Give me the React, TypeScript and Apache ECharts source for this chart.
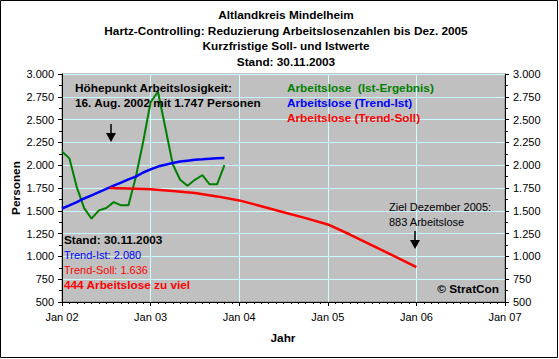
import React, { useEffect, useRef } from "react";
import * as echarts from "echarts";

const titleLines = [
  "Altlandkreis Mindelheim",
  "Hartz-Controlling: Reduzierung Arbeitslosenzahlen bis Dez. 2005",
  "Kurzfristige Soll- und Istwerte",
  "Stand: 30.11.2003",
];

const istMonths = [
  "2002-01-01", "2002-02-01", "2002-03-01", "2002-04-01", "2002-05-01", "2002-06-01",
  "2002-07-01", "2002-08-01", "2002-09-01", "2002-10-01", "2002-11-01", "2002-12-01",
  "2003-01-01", "2003-02-01", "2003-03-01", "2003-04-01", "2003-05-01", "2003-06-01",
  "2003-07-01", "2003-08-01", "2003-09-01", "2003-10-01", "2003-11-01",
];
const istValues = [
  2150, 2075, 1760, 1530, 1415, 1505, 1530, 1595, 1560, 1560, 1870, 2260,
  2690, 2805, 2410, 2010, 1840, 1775, 1840, 1890, 1790, 1790, 2000,
];
const trendIstValues = [
  1525, 1560, 1595, 1635, 1670, 1705, 1740, 1775, 1810, 1845, 1875, 1920,
  1955, 1985, 2005, 2025, 2040, 2050, 2060, 2065, 2072, 2077, 2080,
];
const sollDates = [
  "2002-07-15", "2002-10-01", "2003-01-01", "2003-04-01", "2003-07-01", "2003-10-01",
  "2004-01-01", "2004-04-01", "2004-07-01", "2004-10-01", "2005-01-01", "2005-04-01",
  "2005-07-01", "2005-10-01", "2006-01-01",
];
const sollValues = [
  1750, 1745, 1735, 1718, 1695, 1658, 1614, 1550, 1485, 1420, 1350, 1240, 1120, 1003, 883,
];

const legendItems = [
  { text: "Arbeitslose  (Ist-Ergebnis)", color: "#008000" },
  { text: "Arbeitslose (Trend-Ist)", color: "#0000FF" },
  { text: "Arbeitslose (Trend-Soll)", color: "#FF0000" },
];

const statusLines = [
  { text: "Stand: 30.11.2003", color: "#000000", bold: true },
  { text: "Trend-Ist: 2.080", color: "#0000FF", bold: false },
  { text: "Trend-Soll: 1.636", color: "#FF0000", bold: false },
  { text: "444 Arbeitslose zu viel", color: "#FF0000", bold: true },
];

const FONT = "'Liberation Sans', Arial, sans-serif";

// months since Jan 2002
function toX(d: string): number {
  const [y, m, day] = d.split("-").map(Number);
  return (y - 2002) * 12 + (m - 1) + (day - 1) / 30;
}

function fmtNum(v: number): string {
  if (v >= 1000) {
    return Math.floor(v / 1000) + "." + String(v % 1000).padStart(3, "0");
  }
  return String(v);
}

function txt(x: number, y: number, text: string, opts: any = {}) {
  const size = opts.size || (opts.bold ? 11.8 : 11);
  return {
    type: "text",
    x,
    y,
    rotation: opts.rotation || 0,
    z: 100,
    style: {
      text,
      fill: opts.color || "#000",
      font: `${opts.bold ? "bold " : ""}${size}px ${FONT}`,
      textAlign: opts.align || "left",
      textVerticalAlign: "middle",
    },
  };
}

function arrow(x: number, y0: number, y1: number) {
  return [
    {
      type: "line",
      z: 100,
      shape: { x1: x, y1: y0, x2: x, y2: y1 - 8 },
      style: { stroke: "#000", lineWidth: 1.5 },
    },
    {
      type: "polygon",
      z: 100,
      shape: { points: [[x - 5, y1 - 9], [x + 5, y1 - 9], [x, y1]] },
      style: { fill: "#000" },
    },
  ];
}

export default function App() {
  const ref = useRef<HTMLDivElement>(null);

  useEffect(() => {
    document.body.style.margin = "0";
    const chart = echarts.init(ref.current!, null, { renderer: "svg" });

    const yAxisBase = {
      type: "value",
      min: 500,
      max: 3000,
      interval: 250,
      axisLine: { show: true, lineStyle: { color: "#000", width: 1 } },
      axisTick: { show: true, length: 4, lineStyle: { color: "#000" } },
      minorTick: { show: true, splitNumber: 2, length: 3, lineStyle: { color: "#000" } },
      axisLabel: {
        color: "#000",
        fontSize: 11,
        fontFamily: FONT,
        margin: 8,
        formatter: (v: number) => fmtNum(v),
      },
    };

    const graphics: any[] = [
      {
        type: "rect",
        z: 100,
        shape: { x: 0.5, y: 0.5, width: 557, height: 357 },
        style: { fill: "none", stroke: "#000", lineWidth: 1 },
      },
    ];
    titleLines.forEach((t, i) => {
      graphics.push(txt(286, 15 + i * 15.5, t, { bold: true, align: "center" }));
    });
    legendItems.forEach((l, i) => {
      graphics.push(txt(287, 88 + i * 15, l.text, { bold: true, color: l.color }));
    });
    graphics.push(txt(75, 88, "Höhepunkt Arbeitslosigkeit:", { bold: true }));
    graphics.push(txt(75, 103, "16. Aug. 2002 mit 1.747 Personen", { bold: true }));
    graphics.push(...arrow(111, 124, 142));
    graphics.push(txt(389, 207, "Ziel Dezember 2005:", {}));
    graphics.push(txt(389, 222, "883 Arbeitslose", {}));
    graphics.push(...arrow(415, 231, 249));
    graphics.push(txt(499, 289, "© StratCon", { bold: true, align: "right" }));
    statusLines.forEach((s, i) => {
      graphics.push(txt(64, 240 + i * 15, s.text, { bold: s.bold, color: s.color }));
    });
    graphics.push(txt(16, 188, "Personen", { bold: true, rotation: Math.PI / 2, align: "center" }));
    graphics.push(txt(283, 338, "Jahr", { bold: true, align: "center" }));

    chart.setOption({
      animation: false,
      backgroundColor: "#FFFFFF",
      textStyle: { fontFamily: FONT },
      grid: {
        left: 62,
        right: 54,
        top: 74,
        bottom: 57,
        show: true,
        backgroundColor: "#C0C0C0",
        borderColor: "#808080",
        borderWidth: 1,
      },
      xAxis: {
        type: "value",
        min: 0,
        max: 60,
        interval: 12,
        axisLine: { show: true, onZero: false, lineStyle: { color: "#000" } },
        axisTick: { show: true, length: 4, lineStyle: { color: "#000" } },
        minorTick: { show: true, splitNumber: 12, length: 2, lineStyle: { color: "#000" } },
        splitLine: { show: true, lineStyle: { color: "#CCFFFF", width: 1 } },
        axisLabel: {
          color: "#000",
          fontSize: 11,
          fontFamily: FONT,
          margin: 9,
          formatter: (v: number) => "Jan " + String(2 + Math.round(v / 12)).padStart(2, "0"),
        },
      },
      yAxis: [
        {
          ...yAxisBase,
          position: "left",
          splitLine: { show: true, lineStyle: { color: "#CCFFFF", width: 1 } },
        },
        {
          ...yAxisBase,
          position: "right",
          splitLine: { show: false },
        },
      ],
      series: [
        {
          name: "Arbeitslose (Ist-Ergebnis)",
          type: "line",
          symbol: "none",
          data: istMonths.map((d, i) => [toX(d), istValues[i]]),
          lineStyle: { color: "#008000", width: 2 },
          itemStyle: { color: "#008000" },
        },
        {
          name: "Arbeitslose (Trend-Ist)",
          type: "line",
          symbol: "none",
          data: istMonths.map((d, i) => [toX(d), trendIstValues[i]]),
          lineStyle: { color: "#0000FF", width: 2.5 },
          itemStyle: { color: "#0000FF" },
        },
        {
          name: "Arbeitslose (Trend-Soll)",
          type: "line",
          symbol: "none",
          data: sollDates.map((d, i) => [toX(d), sollValues[i]]),
          lineStyle: { color: "#FF0000", width: 2.5 },
          itemStyle: { color: "#FF0000" },
        },
      ],
      graphic: graphics,
    });

    return () => chart.dispose();
  }, []);

  return <div ref={ref} style={{ width: 559, height: 359 }} />;
}
